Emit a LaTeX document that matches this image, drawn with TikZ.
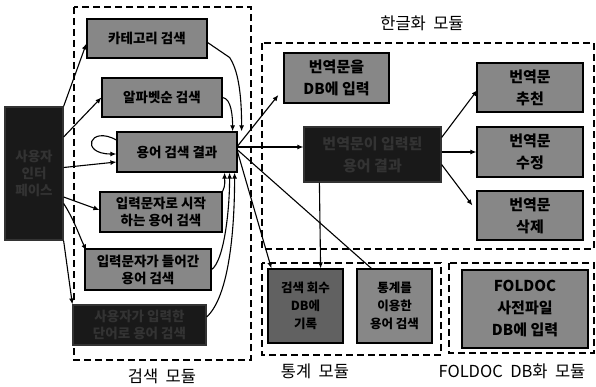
\documentclass[tikz,border=0pt]{standalone}
\usepackage{fontspec}
\setmainfont{Noto Sans CJK KR}
\usetikzlibrary{arrows.meta,calc}
\tikzset{
  lbox/.style={draw=black, line width=1.2pt, fill=black!47, inner sep=1pt, align=center,
    font=\fontsize{13.5}{17}\selectfont\bfseries, text=black},
  dbox/.style={draw=black!80, line width=1.2pt, fill=black!90, inner sep=1pt, align=center,
    font=\fontsize{13.5}{17}\selectfont\bfseries, text=black!80},
  sbox/.style={font=\fontsize{12.5}{18}\selectfont\bfseries},
  kbox/.style={font=\fontsize{15}{22}\selectfont\bfseries},
  modbox/.style={draw=black, line width=1.4pt, dash pattern=on 7pt off 4pt},
  modlabel/.style={font=\fontsize{16.5}{18}\selectfont, text=black},
  arr/.style={line width=1.1pt, -{Latex[length=6pt,width=5pt]}},
  ln/.style={line width=1.1pt},
}
\newcommand{\wsp}{\hspace{0.45em}}
\begin{document}
\begin{tikzpicture}[x=1pt, y=-1pt]
\useasboundingbox (0,0) rectangle (596,387);
\fill[white] (0,0) rectangle (596,387);

% module frames
\draw[modbox] (74,7) rectangle (251,360);
\draw[modbox] (262,43) rectangle (594,249);
\draw[modbox] (262,263) rectangle (441,355);
\draw[modbox] (449,263) rectangle (594,353);

\node[modlabel] (m1) at (162,376) {검색\wsp 모듈};
\node[modlabel] (m2) at (422,23) {한글화\wsp 모듈};
\node[modlabel] (m3) at (315,371) {통계\wsp 모듈};
\node[modlabel] (m4) at (512,371) {FOLDOC\wsp DB화\wsp 모듈};

% left input box
\node[dbox, minimum width=58, minimum height=133] (L) at (34,173.5) {사용자\\인터\\페이스};

% search module
\node[lbox, minimum width=120, minimum height=39] (b1) at (147,38.5) {카테고리 검색};
\node[lbox, minimum width=120, minimum height=39] (b2) at (162,97.5) {알파벳순 검색};
\node[lbox, minimum width=120, minimum height=40] (b3) at (177,152) {용어 검색 결과};
\node[lbox, minimum width=122, minimum height=40] (b4) at (161,212) {입력문자로 시작\\하는 용어 검색};
\node[lbox, minimum width=126, minimum height=41] (b5) at (148,269.5) {입력문자가 들어간\\용어 검색};
\node[dbox, minimum width=133, minimum height=40] (b6) at (139.5,325) {사용자가 입력한\\단어로 용어 검색};

% hangul module
\node[lbox, kbox, minimum width=105, minimum height=50] (k1) at (336.5,78) {번역문을\\DB에 입력};
\node[dbox, kbox, minimum width=137, minimum height=55] (k2) at (372.5,154.5) {번역문이 입력된\\용어 결과};
\node[lbox, kbox, minimum width=106, minimum height=49] (k3) at (530,87.5) {번역문\\추천};
\node[lbox, kbox, minimum width=106, minimum height=50] (k4) at (530,152) {번역문\\수정};
\node[lbox, kbox, minimum width=106, minimum height=49] (k5) at (530,215.5) {번역문\\삭제};

% statistics module
\node[lbox, sbox, fill=black!62, minimum width=75, minimum height=74] (s1) at (305.5,306) {검색 회수\\DB에\\기록};
\node[lbox, sbox, minimum width=75, minimum height=74] (s2) at (394.5,306) {통계를\\이용한\\용어 검색};

% FOLDOC module
\node[lbox, kbox, minimum width=126, minimum height=78] (f1) at (525,309) {FOLDOC\\사전파일\\DB에 입력};

% arrows from left box
\draw[arr] (L.north east) -- ($(b1.west)+(0,5)$);
\draw[arr] ($(L.east)+(0,-36.5)$) -- (b2.west);
\draw[arr] ($(L.east)+(0,-6)$) -- ($(b3.west)+(0,10)$);
\draw[arr] ($(L.east)+(0,23.5)$) -- ($(b4.west)+(0,-2)$);
\draw[arr] ($(L.east)+(0,30)$) .. controls +(10,15) and +(-6,-12) .. ($(b5.north west)+(2,2)$);
\draw[arr] (L.south east) -- (b6.north west);

% loop on b3
\draw[arr] ($(b3.west)+(0,-12)$) .. controls +(-27,-15) and +(-37,0) .. ($(b3.west)+(0,2)$);

% arrows into b3
\draw[arr] ($(b1.east)+(0,4)$) -- ++(22,15) .. controls +(8,12) and +(0,-40) .. ($(b3.north east)+(4,0)$);
\draw[arr] (b2.east) .. controls +(9,1) and +(0,-14) .. ($(b3.north east)+(-5,0)$);
\draw[arr] (b4.north east) .. controls +(3,-6) and +(0,8) .. ($(b3.south east)+(-13,0)$);
\draw[arr] (b5.east) .. controls +(12,-8) and +(0,40) .. ($(b3.south east)+(-8,0)$);
\draw[arr] ($(b6.east)+(0,-8)$) .. controls +(22,-20) and +(0,60) .. ($(b3.south east)+(-3,0)$);

% arrows out of b3
\draw[arr] ($(b3.east)+(0,-6)$) -- ($(k1.west)+(-5,17)$);
\draw[arr] ($(b3.east)+(0,-5)$) -- ($(k2.west)+(0,-7.5)$);
\draw[arr] (b3.east) -- ($(s1.north west)+(4,0)$);
\draw[ln] ($(b3.east)+(0,-2)$) -- ($(s2.north west)+(15,0)$);

% arrows out of k2
\draw[arr] ($(k2.south west)+(16,0)$) -- ($(s1.north east)+(-23,0)$);
\draw[arr] ($(k2.east)+(0,-17)$) -- ($(k3.west)+(1,2.5)$);
\draw[arr] ($(k2.east)+(0,-2.5)$) -- (k4.west);
\draw[arr] ($(k2.east)+(0,10)$) -- ($(k5.west)+(-4,-10)$);
\end{tikzpicture}
\end{document}
